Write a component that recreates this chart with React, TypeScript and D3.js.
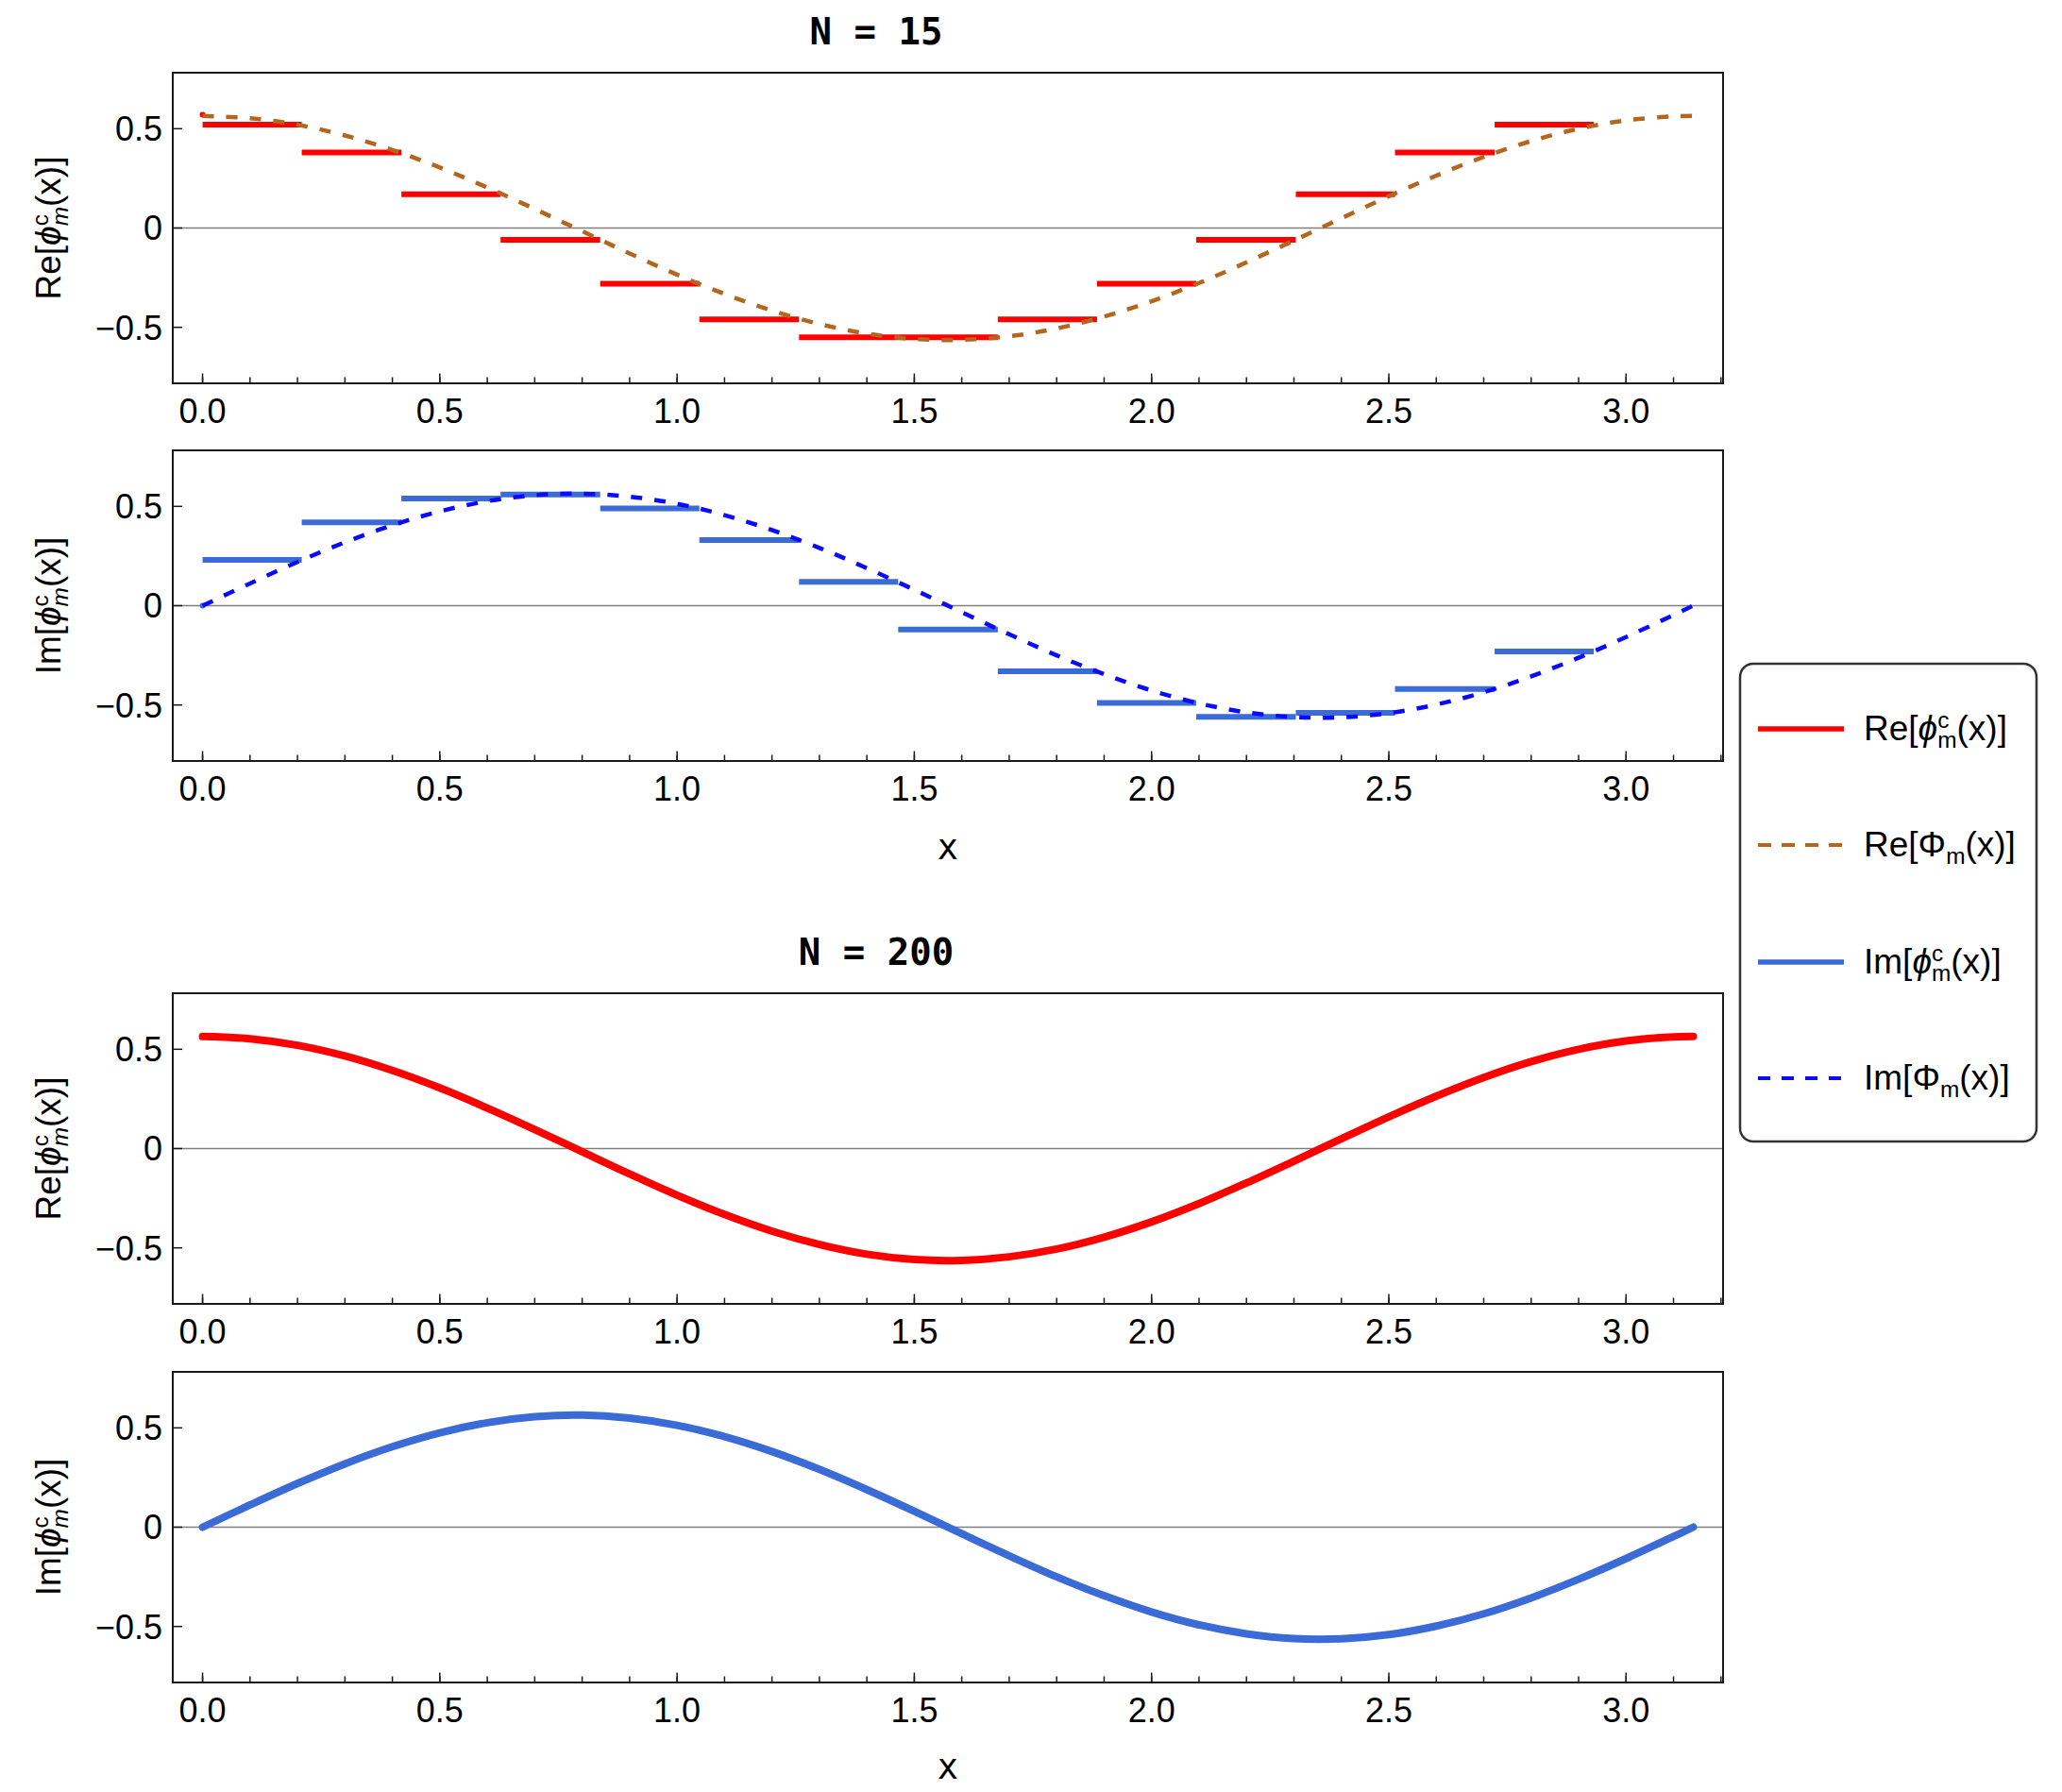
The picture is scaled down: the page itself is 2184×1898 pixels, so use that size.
import React from 'react';
import * as d3 from 'd3';

const curveX = [0, 0.1, 0.2, 0.3, 0.4, 0.5, 0.6, 0.7, 0.8, 0.9, 1.0, 1.1, 1.2, 1.3, 1.4, 1.5, 1.6,
    1.7, 1.8, 1.9, 2.0, 2.1, 2.2, 2.3, 2.4, 2.5, 2.6, 2.7, 2.8, 2.9, 3.0, 3.1, 3.1416];
const reCurve = [0.564, 0.553, 0.520, 0.466, 0.393, 0.305, 0.204, 0.096, -0.016, -0.128, -0.235,
    -0.332, -0.416, -0.483, -0.532, -0.559, -0.563, -0.545, -0.506, -0.446, -0.369, -0.277, -0.173,
    -0.063, 0.049, 0.160, 0.264, 0.358, 0.438, 0.500, 0.542, 0.562, 0.564];
const imCurve = [0, 0.112, 0.220, 0.319, 0.405, 0.475, 0.526, 0.556, 0.564, 0.549, 0.513, 0.456,
    0.381, 0.291, 0.189, 0.080, -0.033, -0.144, -0.250, -0.345, -0.427, -0.492, -0.537, -0.561,
    -0.562, -0.541, -0.498, -0.436, -0.356, -0.262, -0.158, -0.047, 0];

// N = 15 step function
const stepEdges = [0, 0.209, 0.419, 0.628, 0.838, 1.047, 1.257, 1.466, 1.676, 1.885, 2.094, 2.304,
    2.513, 2.723, 2.932];
const reSteps = [0.52, 0.38, 0.17, -0.06, -0.28, -0.46, -0.55, -0.55, -0.46, -0.28, -0.06, 0.17, 0.38, 0.52];
const imSteps = [0.23, 0.42, 0.54, 0.56, 0.49, 0.33, 0.12, -0.12, -0.33, -0.49, -0.56, -0.54, -0.42, -0.23];
const reStart = 0.57;
const imStart = 0;

const yTicks = [-0.5, 0, 0.5];
const yTickLabels = ['\u22120.5', '0', '0.5'];

const RED = '#ff0000';
const BROWN = '#b4661e';
const BLUE = '#3b6bd6';
const DBLUE = '#0a0aff';

const W = 2184, H = 1898;
const left = 183, right = 1825, panelH = 329;
const SANS = '"Liberation Sans", Arial, "DejaVu Sans", sans-serif';
const MONO = '"DejaVu Sans Mono", "Liberation Mono", monospace';

const x = d3.scaleLinear().domain([-0.0628, 3.2044]).range([left, right]);
const curvePts: [number, number][] = curveX.map((v, i) => [v, i]);

// phi with stacked super/subscript
const PhiText = ({ pre, big, sup, italicSub, fs }:
    { pre: string; big: string; sup?: string; italicSub: boolean; fs: number }) => {
    const s = fs * 0.66;
    return (
        <>
            <tspan>{pre}[</tspan>
            <tspan fontStyle={big === '\u03D5' ? 'italic' : 'normal'}>{big}</tspan>
            {sup && <tspan fontSize={s} dy={-0.36 * fs}>{sup}</tspan>}
            <tspan fontSize={s} fontStyle={italicSub ? 'italic' : 'normal'} dx={sup ? -0.5 * s : 0}
                dy={sup ? 0.58 * fs : 0.22 * fs}>m</tspan>
            <tspan dy={-0.22 * fs}>(x)]</tspan>
        </>
    );
};

type PanelProps = { top: number; label: string; render: (y: d3.ScaleLinear<number, number>) => React.ReactNode };

const Panel = ({ top, label, render }: PanelProps) => {
    const y = d3.scaleLinear().domain([-0.782, 0.782]).range([top + panelH, top]);
    const bottom = top + panelH;
    return (
        <g>
            <line x1={left} x2={right} y1={y(0)} y2={y(0)} stroke="#7f7f7f" strokeWidth={1.6} />
            {render(y)}
            <rect x={left} y={top} width={right - left} height={panelH} fill="none" stroke="#1a1a1a" strokeWidth={2} />
            {x.ticks(32).map(t => (
                <line key={'m' + t} x1={x(t)} x2={x(t)} y1={bottom} y2={bottom - 6.5} stroke="#1a1a1a" strokeWidth={1.5} />
            ))}
            {x.ticks(7).map(t => (
                <g key={'M' + t}>
                    <line x1={x(t)} x2={x(t)} y1={bottom} y2={bottom - 10.5} stroke="#1a1a1a" strokeWidth={1.5} />
                    <text x={x(t)} y={bottom + 41.5} textAnchor="middle" fontFamily={SANS} fontSize={36}>{t.toFixed(1)}</text>
                </g>
            ))}
            {yTicks.map((t, i) => (
                <g key={'y' + t}>
                    <line x1={left} x2={left + 10} y1={y(t)} y2={y(t)} stroke="#1a1a1a" strokeWidth={1.5} />
                    <text x={172} y={y(t)} dy="0.36em" textAnchor="end" fontFamily={SANS} fontSize={36}>{yTickLabels[i]}</text>
                </g>
            ))}
            <text transform={`translate(64,${top + panelH / 2}) rotate(-90)`} textAnchor="middle" fontFamily={SANS} fontSize={37}>
                <PhiText pre={label} big={'\u03D5'} sup="c" italicSub fs={37} />
            </text>
        </g>
    );
};

const steps = (y: d3.ScaleLinear<number, number>, vals: number[], start: number, color: string) => (
    <g>
        {vals.map((v, i) => (
            <line key={i} x1={x(stepEdges[i])} x2={x(stepEdges[i + 1] ?? stepEdges[i] + 0.209)} y1={y(v)} y2={y(v)}
                stroke={color} strokeWidth={6} />
        ))}
        <circle cx={x(0)} cy={y(start)} r={3} fill={color} />
    </g>
);

const curve = (y: d3.ScaleLinear<number, number>, vals: number[], color: string, dashed: boolean) => {
    const line = d3.line<[number, number]>()
        .x(d => x(d[0]))
        .y(d => y(vals[d[1]]))
        .curve(d3.curveCatmullRom.alpha(0.5));
    return dashed
        ? <path d={line(curvePts) || ''} fill="none" stroke={color} strokeWidth={4.5} strokeDasharray="12 13" />
        : <path d={line(curvePts) || ''} fill="none" stroke={color} strokeWidth={8} strokeLinecap="round" />;
};

const legendRows = [
    { pre: 'Re', big: '\u03D5', sup: 'c', color: RED, dash: '' },
    { pre: 'Re', big: '\u03A6', sup: undefined, color: BROWN, dash: '14 11' },
    { pre: 'Im', big: '\u03D5', sup: 'c', color: BLUE, dash: '' },
    { pre: 'Im', big: '\u03A6', sup: undefined, color: DBLUE, dash: '13 12' },
];
const legendY = [772, 895, 1019, 1142];

export default function App() {
    return (
        <svg width={W} height={H} style={{ position: 'absolute', left: 0, top: 0, background: '#fff' }}>
            <text x={928} y={47} textAnchor="middle" fontFamily={MONO} fontWeight="bold" fontSize={39}>N = 15</text>
            <Panel top={77} label="Re" render={y => (
                <>
                    {steps(y, reSteps, reStart, RED)}
                    {curve(y, reCurve, BROWN, true)}
                </>
            )} />
            <Panel top={477} label="Im" render={y => (
                <>
                    {steps(y, imSteps, imStart, BLUE)}
                    {curve(y, imCurve, DBLUE, true)}
                </>
            )} />
            <text x={1004} y={910} textAnchor="middle" fontFamily={MONO} fontSize={37}>x</text>

            <text x={928} y={1022} textAnchor="middle" fontFamily={MONO} fontWeight="bold" fontSize={39}>N = 200</text>
            <Panel top={1052} label="Re" render={y => curve(y, reCurve, RED, false)} />
            <Panel top={1453} label="Im" render={y => curve(y, imCurve, BLUE, false)} />
            <text x={1004} y={1884} textAnchor="middle" fontFamily={MONO} fontSize={37}>x</text>

            <rect x={1843} y={703} width={314} height={506} rx={14} fill="#fff" stroke="#333" strokeWidth={2.5} />
            {legendRows.map((r, i) => (
                <g key={i}>
                    <line x1={1862} x2={1953} y1={legendY[i]} y2={legendY[i]} stroke={r.color}
                        strokeWidth={r.dash ? 4 : 5.5} strokeDasharray={r.dash || undefined} />
                    <text x={1974} y={legendY[i] + 12} fontFamily={SANS} fontSize={37}>
                        <PhiText pre={r.pre} big={r.big} sup={r.sup} italicSub={false} fs={37} />
                    </text>
                </g>
            ))}
        </svg>
    );
}
